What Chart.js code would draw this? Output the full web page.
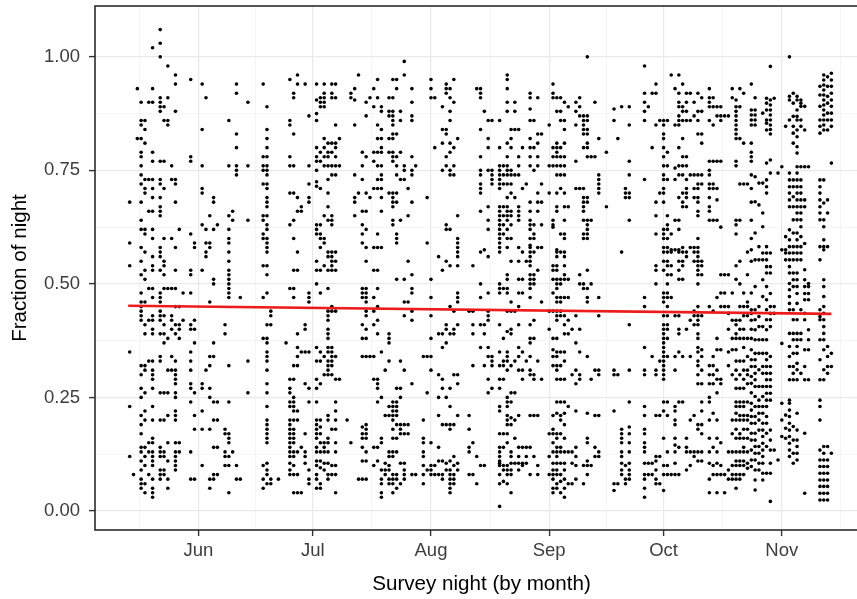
<!DOCTYPE html>
<html>
<head>
<meta charset="utf-8">
<title>Fraction of night by survey night</title>
<script src="https://cdn.jsdelivr.net/npm/chart.js@4/dist/chart.umd.min.js"></script>
<style>
  html, body { margin:0; padding:0; background:#fff; overflow:hidden; }
  #wrap { width:880px; height:599px; }
</style>
</head>
<body>
<div id="wrap"><canvas id="chart" width="880" height="599"></canvas></div>
<script>
// survey nights, as days since 1 June
const nights = [-18,-17,-16,-15,-14,-13,-12,-10,-9,-8,-7,-6,-5,-4,-2,-1,1,2,3,4,5,7,8,9,10,11,13,17,18,19,21,23,24,25,26,27,28,29,31,32,33,34,35,36,37,39,40,41,42,43,44,45,46,47,48,49,50,51,52,53,54,55,56,57,59,60,61,62,63,64,65,66,67,68,71,72,73,74,75,76,77,79,80,81,82,83,84,85,86,87,88,89,90,92,93,94,95,96,97,98,99,100,101,102,103,104,105,107,109,110,111,112,113,117,118,119,120,121,122,123,124,125,126,127,128,129,130,131,132,134,135,136,137,138,139,140,141,142,143,144,145,146,147,148,149,150,151,152,153,154,155,156,157,158,159,160,163,164,165,166];

// fraction of night of each detection, one list per night (same order as nights)
const fractions = [
  [.68,.59,.54,.35,.23,.12],
  [.08],
  [.93,.82],
  [.90,.86,.85,.82,.79,.78,.76,.74,.72,.68,.64,.62,.58,.55,.52,.48,.46,.45,.44,.43,.42,.32,.30,.27,.25,.21,.19,.17,.14,.13,.11,.09,.07,.06,.05],
  [.86,.84,.81,.73,.71,.70,.62,.61,.57,.53,.51,.46,.41,.39,.32,.31,.26,.22,.20,.14,.12,.10,.06,.04],
  [.90,.73,.66,.49,.42,.33,.15,.13,.08],
  [1.02,.93,.90,.79,.77,.73,.71,.69,.66,.62,.60,.56,.54,.53,.49,.47,.43,.42,.40,.39,.33,.31,.30,.29,.27,.23,.20,.16,.15,.13,.12,.11,.10,.07,.05,.04,.03],
  [1.06,1.03,1.00,.91,.90,.89,.88,.77,.73,.72,.69,.67,.66,.65,.58,.57,.56,.53,.48,.47,.46,.44,.43,.42,.39,.34,.33,.26,.20,.14,.13,.12,.09,.08,.07],
  [.89,.86,.77,.71,.60,.55,.54,.52,.49,.43,.41,.39,.37,.26,.20,.13,.12,.09,.08],
  [.98,.91,.86,.85,.49,.38,.31,.26,.21,.15,.11,.07,.05],
  [.76,.73,.60,.49,.43,.42,.40,.34,.31],
  [.96,.94,.88,.73,.72,.68,.58,.53,.49,.45,.41,.39,.33,.31,.30,.29,.28,.26,.25,.22,.21,.20,.15,.13,.12,.11,.10,.09],
  [.62,.45,.41,.40,.38,.15,.13],
  [.48,.42],
  [.95,.78,.77,.61,.53,.52,.48,.41,.40,.35,.33,.31,.28,.27,.24,.13,.07],
  [.59,.58,.42,.40,.37,.26,.21,.18,.07],
  [.94,.84,.76,.71,.70,.63,.53,.28,.27,.22,.18,.10],
  [.91,.62,.59,.57,.56,.31],
  [.65,.59,.58,.46,.34,.32,.27,.25,.18,.07,.05],
  [.69,.68,.62,.51,.50,.37,.34,.24,.20,.14,.08,.07],
  [.63,.24,.20,.14,.08],
  [.41,.39,.18,.17,.13,.12,.10],
  [.86,.76,.65,.62,.60,.59,.57,.55,.53,.52,.51,.50,.49,.48,.47,.32,.24,.17,.16,.15,.12,.10,.04],
  [.66,.64,.13],
  [.94,.92,.83,.80,.76,.75,.74,.10,.07],
  [.47,.07],
  [.90,.76,.64,.33,.26],
  [.94,.78,.76,.75,.72,.65,.64,.61,.60,.54,.47,.38,.10,.07,.05],
  [.89,.84,.82,.80,.78,.76,.75,.74,.72,.71,.69,.68,.67,.65,.63,.62,.60,.59,.58,.57,.54,.52,.48,.41,.38,.37,.35,.34,.33,.31,.28,.26,.23,.20,.19,.18,.17,.16,.15,.105,.09,.08,.06],
  [.44,.43,.41,.07,.06],
  [.07],
  [.37],
  [.95,.86,.85,.78,.76,.70,.63,.49,.29,.27,.26,.24,.23,.20,.19,.18,.17,.16,.15,.14,.13,.12,.105,.09,.08],
  [.92,.91,.83,.76,.70,.64,.60,.53,.49,.47,.32,.29,.25,.24,.23,.22,.20,.18,.17,.16,.15,.13,.12,.10,.08,.04],
  [.96,.94,.69,.66,.57,.53,.39,.36,.34,.32,.22,.20,.13,.08,.04],
  [.67,.66,.35,.14,.04],
  [.94,.41,.40,.35,.28,.17,.13,.12,.105],
  [.87,.76,.72,.69,.68,.48,.47,.46,.35,.27,.24,.09,.07,.06],
  [.94,.905,.875,.86,.80,.78,.77,.75,.725,.715,.63,.62,.61,.55,.53,.50,.36,.33,.29,.27,.24,.20,.19,.18,.17,.16,.14,.13,.11,.10,.08,.07,.05],
  [.91,.90,.89,.79,.77,.71,.63,.61,.60,.58,.53,.48,.35,.33,.28,.20,.185,.17,.15,.13,.11,.095,.06,.05],
  [.94,.92,.91,.90,.89,.82,.80,.78,.76,.65,.60,.59,.54,.34,.30,.15,.14,.13,.105,.09],
  [.81,.79,.78,.76,.73,.70,.67,.64,.57,.56,.53,.49,.44,.43,.42,.40,.39,.38,.36,.35,.33,.32,.31,.30,.21,.20,.16,.15,.13,.105,.08,.07],
  [.94,.92,.91,.81,.79,.76,.74,.65,.64,.63,.57,.56,.55,.54,.53,.45,.44,.36,.35,.34,.33,.32,.30,.18,.10,.08],
  [.94,.91,.85,.81,.80,.78,.76,.74,.57,.55,.53,.44,.34,.29,.24,.22,.20,.18,.15,.13,.10,.08,.04],
  [.82,.76,.29],
  [.20],
  [.92,.91,.15],
  [.93,.905,.85,.74,.69,.68,.65],
  [.96,.70,.07],
  [.79,.76,.73,.66,.63,.61,.59,.49,.48,.47,.41,.38,.34,.185,.17,.16,.14,.11,.07],
  [.90,.87,.78,.70,.66,.62,.58,.55,.49,.48,.47,.46,.44,.43,.40,.38,.34,.19,.18,.17,.16,.13,.11,.07],
  [.91,.69,.34],
  [.93,.89,.79,.77,.71,.58,.53,.47,.44,.41,.34,.29,.14,.10],
  [.95,.91,.85,.82,.79,.76,.73,.71,.61,.58,.53,.49,.45,.42,.39,.29,.28,.27,.24,.14,.11],
  [.89,.88,.84,.82,.80,.79,.76,.74,.73,.71,.69,.66,.58,.35,.25,.16,.15,.09,.07,.06,.04,.03],
  [.31,.21,.105,.09,.08],
  [.91,.88,.87,.82,.79,.70,.39,.38,.37,.33,.23,.21,.13,.12,.10,.09,.07,.06],
  [.95,.91,.88,.87,.86,.85,.83,.82,.79,.78,.77,.70,.69,.68,.67,.64,.63,.24,.23,.22,.21,.20,.18,.16,.13,.12,.08,.07,.06,.04],
  [.95,.93,.83,.78,.76,.74,.70,.68,.61,.60,.59,.51,.27,.24,.23,.22,.21,.19,.16,.13,.08,.07,.05],
  [.88,.86,.79,.73,.64,.33,.27,.25,.19,.18,.17,.105,.06],
  [.99,.96,.76,.75,.73,.51,.46,.43,.31,.19,.17,.105,.09,.08,.07],
  [.71,.65,.55,.46,.19,.17],
  [.93,.90,.87,.86,.78,.75,.74,.68,.52,.49,.48,.44,.42,.28,.08],
  [.76,.08],
  [.34,.20,.16,.15,.13,.12,.10,.08,.06],
  [.69,.59,.34,.26,.09],
  [.95,.93,.91,.51,.47,.43,.38,.34,.31,.15,.10,.09,.08],
  [.91,.80,.10,.08],
  [.56,.39,.30,.25,.21,.14,.11,.08],
  [.89,.84,.81,.75,.53,.39,.36,.29,.27,.19,.11,.08,.07],
  [.94,.93,.92,.84,.83,.78,.76,.63,.62,.55,.41,.40,.37,.25,.19,.105,.09],
  [.93,.91,.88,.86,.81,.79,.75,.74,.62,.54,.45,.39,.27,.23,.19,.18,.11,.09,.08,.07,.06,.05,.04],
  [.95,.90,.80,.76,.74,.44,.40,.39,.30,.19,.12,.10,.08,.07,.06],
  [.82,.65,.60,.59,.58,.57,.56,.54,.48,.47,.46,.41,.30,.28,.21,.105,.09],
  [.44,.21,.18,.14,.13,.08],
  [.54,.44,.41,.39,.32,.15,.08],
  [.93,.12,.06],
  [.93,.92,.91,.84,.78,.75,.74,.72,.71,.70,.66,.57,.50,.47,.41,.36,.10],
  [.88,.575,.41,.39,.32,.10],
  [.86,.82,.80,.75,.67,.64,.62,.56,.48,.44,.43,.42,.36,.34,.29,.26],
  [.86,.75,.74,.73,.72,.34,.33,.32,.27],
  [.86,.80,.76,.75,.74,.73,.72,.71,.67,.66,.65,.64,.63,.62,.61,.60,.59,.58,.57,.50,.49,.48,.41,.35,.32,.29,.27,.23,.22,.17,.14,.13,.12,.11,.105,.10,.08,.06,.01],
  [.76,.74,.72,.67,.65,.63,.61,.49,.38,.33,.32,.29,.17,.14,.10,.09,.065],
  [.96,.95,.93,.90,.88,.81,.78,.76,.75,.74,.72,.69,.67,.66,.65,.64,.62,.60,.58,.52,.51,.49,.48,.44,.395,.35,.34,.33,.31,.25,.24,.23,.21,.20,.19,.17,.15,.10,.09,.08,.06],
  [.84,.82,.80,.75,.74,.72,.70,.66,.65,.63,.60,.55,.46,.44,.40,.39,.32,.26,.24,.205,.19,.13,.12,.105,.09,.08,.04],
  [.90,.88,.84,.74,.69,.44,.33,.26,.20,.16,.105],
  [.84,.78,.76,.74,.67,.66,.65,.64,.58,.55,.51,.48,.45,.41,.36,.34,.31,.21,.14,.12,.105,.09],
  [.80,.71,.57,.51,.48,.35,.31,.29,.14,.105,.10],
  [.72,.55,.33,.14,.12,.105],
  [.92,.91,.885,.86,.82,.80,.78,.76,.68,.66,.64,.63,.62,.60,.585,.58,.57,.56,.55,.54,.52,.51,.50,.49,.47,.41,.38,.37,.34,.31,.30,.21,.14,.08],
  [.86,.80,.75,.63,.61,.60,.57,.52,.51,.50,.42,.38,.30,.29,.21,.12],
  [.91,.83,.81,.78,.76,.70,.68,.66,.58,.53,.33,.21,.10,.08],
  [.83,.72,.68,.63,.58,.46,.29],
  [.85,.76,.70,.44,.40,.17,.12,.08],
  [.94,.92,.91,.80,.78,.76,.64,.63,.625,.54,.53,.51,.48,.44,.38,.355,.34,.32,.21,.18,.17,.15,.13,.105,.09,.08,.07,.05,.04],
  [.91,.88,.81,.80,.79,.78,.76,.74,.70,.67,.66,.575,.57,.56,.54,.53,.51,.50,.49,.47,.46,.44,.43,.42,.38,.35,.34,.32,.31,.29,.24,.215,.17,.16,.14,.13,.12,.105,.09,.08,.06,.05],
  [.91,.88,.86,.80,.78,.76,.74,.71,.61,.57,.51,.50,.47,.46,.44,.43,.35,.32,.29,.24,.21,.20,.17,.14,.13,.105,.08,.065,.04],
  [.90,.86,.84,.81,.78,.76,.74,.70,.67,.64,.61,.60,.57,.56,.54,.52,.51,.47,.43,.41,.39,.35,.33,.29,.24,.215,.19,.16,.13,.105,.09,.07,.05,.03],
  [.89,.67,.51,.47,.42,.39,.23,.13,.06],
  [.40,.30,.13,.105,.06],
  [.90,.88,.85,.77,.71,.43,.37,.31,.28,.22,.14,.12,.10,.07],
  [.91,.89,.87,.71,.52,.50,.40,.35,.30,.29],
  [.87,.86,.85,.84,.83,.80,.71,.69,.68,.67,.66,.64,.61,.60,.50,.49,.10,.06],
  [1.00,.87,.86,.84,.83,.81,.80,.78,.69,.68,.64,.63,.62,.61,.60,.53,.49,.47,.46,.34,.215,.16,.15,.11,.10,.08],
  [.78,.64,.50,.29,.10],
  [.90,.78,.31,.21,.14,.12],
  [.82,.74,.73,.72,.71,.70,.47,.43,.31,.30,.21,.13,.12],
  [.79,.67],
  [.885,.86,.31,.30,.22,.06,.045],
  [.82,.30,.06],
  [.89,.57,.18,.17,.16,.15,.13,.12,.105,.09,.08],
  [.71,.70,.69,.10,.07,.06],
  [.89,.85,.77,.74,.70,.69,.64,.41,.31,.24,.185,.17,.15,.13,.105,.09,.08,.07],
  [.98,.92,.90,.88,.86,.73,.47,.45,.36,.31,.30,.23,.21,.18,.17,.15,.14,.13,.105,.08,.07,.05,.03],
  [.89,.105,.08],
  [.92,.80,.34,.105,.08],
  [.94,.92,.85,.68,.65,.61,.54,.53,.50,.31,.30,.21,.12,.11,.09,.07,.06],
  [.86,.70,.33,.21,.12,.06],
  [.86,.85,.83,.82,.80,.78,.76,.74,.73,.71,.70,.68,.62,.61,.60,.58,.57,.55,.53,.48,.47,.46,.43,.41,.40,.39,.38,.37,.36,.35,.34,.33,.32,.31,.30,.29,.24,.22,.16,.10,.08,.045],
  [.86,.79,.76,.73,.65,.63,.62,.60,.58,.57,.55,.54,.52,.50,.48,.47,.45,.43,.41,.40,.38,.34,.24,.21,.13,.10,.08],
  [.96,.61,.575,.57,.54,.52,.47,.08],
  [.93,.85,.755,.73,.64,.575,.43,.34,.31,.23,.22,.20,.19,.16,.145,.13,.105,.08],
  [.96,.92,.90,.89,.87,.86,.85,.80,.76,.74,.69,.64,.62,.575,.57,.55,.53,.51,.43,.40,.39,.35,.24,.14,.08],
  [.94,.89,.88,.86,.82,.78,.76,.74,.70,.68,.67,.58,.57,.55,.54,.51,.34,.24],
  [.92,.90,.88,.86,.78,.76,.73,.71,.70,.69,.67,.57,.56,.40,.16,.14,.13,.09],
  [.92,.86,.74,.58,.42,.34,.20,.13,.10],
  [.90,.87,.74,.71,.69,.58,.57,.55,.44,.43,.41,.21,.13,.12],
  [.92,.88,.86,.83,.74,.72,.71,.69,.68,.66,.65,.60,.58,.57,.56,.55,.54,.53,.52,.50,.45,.43,.42,.41,.39,.38,.36,.35,.33,.32,.30,.28,.19,.18,.13,.11],
  [.91,.88,.83,.81,.74,.72,.55,.54,.52,.43,.355,.34,.31,.28,.24,.22,.19,.17,.13,.11],
  [.93,.91,.90,.89,.86,.77,.75,.74,.72,.71,.69,.67,.66,.64,.45,.32,.30,.28,.25,.24,.20,.16,.13,.105,.07,.04],
  [.91,.89,.85,.77,.72,.71,.64,.44,.34,.32,.30,.28,.215,.14,.10,.08],
  [.89,.87,.77,.71,.685,.64,.47,.38,.355,.31,.29,.26,.20,.16,.13,.105,.08,.04],
  [.89,.87,.86,.77,.625,.52,.48,.45,.355,.29,.28,.15,.10,.08],
  [.87,.52,.48,.45,.08,.04],
  [.87,.52,.45,.435,.40,.35,.32,.13,.09,.07],
  [.93,.91,.48,.42,.38,.355,.30,.20,.17,.13,.10,.08,.07],
  [.905,.89,.88,.87,.86,.85,.84,.83,.82,.77,.76,.64,.63,.61,.54,.51,.42,.41,.39,.38,.355,.33,.31,.29,.27,.24,.23,.215,.20,.18,.16,.13,.11,.10,.08,.07,.05],
  [.93,.89,.82,.72,.64,.55,.50,.45,.42,.40,.38,.33,.30,.27,.24,.23,.21,.20,.17,.16,.13,.11,.10,.08,.07],
  [.92,.81,.72,.48,.45,.43,.40,.38,.36,.33,.31,.29,.27,.24,.23,.21,.20,.18,.16,.14,.13,.11,.10,.08],
  [.72,.57,.52,.46,.45,.43,.38,.34,.31,.30,.28,.24,.21,.20,.18,.16,.13,.105,.094],
  [.94,.883,.872,.861,.85,.81,.79,.78,.77,.74,.71,.68,.64,.60,.575,.55,.48,.443,.435,.42,.40,.38,.355,.333,.318,.296,.281,.26,.237,.222,.208,.193,.171,.156,.134,.112,.098],
  [.91,.883,.872,.861,.85,.736,.681,.612,.553,.494,.443,.421,.399,.377,.347,.333,.318,.303,.289,.274,.252,.23,.208,.193,.171,.156,.142,.127,.112,.09,.068,.046],
  [.722,.674,.582,.553,.45,.428,.406,.377,.347,.311,.274,.244,.23,.215,.20,.178,.142,.127,.105,.09],
  [.876,.722,.656,.626,.568,.553,.509,.472,.406,.377,.347,.318,.303,.274,.252,.23,.215,.193,.178,.164,.149,.134,.12,.105,.083,.068],
  [.909,.898,.883,.861,.854,.839,.766,.729,.714,.70,.582,.568,.553,.538,.524,.494,.465,.443,.421,.399,.377,.347,.333,.318,.303,.289,.274,.259,.244,.23,.208,.193,.171,.142,.083],
  [.979,.905,.894,.883,.872,.861,.85,.84,.83,.773,.744,.568,.538,.524,.479,.45,.435,.421,.406,.34,.318,.303,.289,.274,.259,.244,.178,.156,.134,.105,.083,.021],
  [.909,.45,.435,.134],
  [.744,.112],
  [.758,.575,.369,.237,.20,.164],
  [.847,.604,.575,.568,.553,.211,.182,.16],
  [1.00,.913,.905,.861,.744,.729,.714,.70,.685,.67,.619,.597,.582,.568,.553,.538,.524,.501,.487,.472,.457,.443,.391,.362,.34,.318,.289,.244,.237,.222,.208,.193,.178,.164,.149,.134,.12],
  [.92,.898,.869,.847,.832,.81,.729,.714,.692,.67,.641,.612,.582,.568,.553,.524,.509,.494,.443,.421,.391,.377,.347,.318,.303,.289,.186,.156,.127,.105],
  [.913,.905,.883,.869,.861,.839,.824,.802,.788,.758,.744,.729,.714,.70,.685,.67,.656,.641,.612,.597,.582,.568,.553,.524,.509,.494,.479,.457,.421,.391,.377,.362,.347,.325,.311,.289,.215,.178,.156,.142,.127,.112],
  [.905,.898,.891,.861,.847,.758,.729,.714,.70,.685,.67,.656,.641,.626,.604,.582,.568,.553,.443,.391,.377,.303],
  [.891,.839,.758,.685,.67,.589,.531,.509,.494,.479,.465,.435,.421,.355,.318,.289,.171,.039],
  [.758,.501,.494,.479,.465,.399,.377,.355,.289],
  [.935,.916,.891,.861,.847,.832,.729,.714,.70,.685,.67,.656,.641,.582,.553,.443,.428,.421,.377,.333,.289,.244,.23,.20,.134,.112,.098,.083,.068,.054,.039,.024],
  [.96,.949,.938,.927,.916,.905,.894,.883,.872,.861,.85,.839,.729,.678,.641,.626,.597,.582,.575,.509,.494,.472,.45,.435,.421,.406,.391,.377,.355,.311,.289,.142,.127,.112,.098,.083,.068,.054,.039,.024],
  [.956,.935,.913,.898,.876,.861,.839,.685,.656,.582,.362,.34,.318,.303,.142,.112,.098,.083,.068,.054,.039,.024],
  [.964,.949,.935,.92,.905,.891,.876,.861,.847,.766,.347,.318,.127]
];

// fitted trend (red line), ends
const trendDays = [-18.4, 166];
const trendFraction = [0.452, 0.434];

// axis breaks
const monthDays = [0, 30, 61, 92, 122, 153];
const monthLabels = ['Jun', 'Jul', 'Aug', 'Sep', 'Oct', 'Nov'];
const minorDays = [-15.5, 15, 45.5, 76.5, 107, 137.5, 168.5];
const yBreaks = [0, 0.25, 0.5, 0.75, 1];
const yMinor = [0.125, 0.375, 0.625, 0.875];

const points = [];
nights.forEach((d, i) => fractions[i].forEach(f => points.push({ x: d, y: f })));
const trend = trendDays.map((d, i) => ({ x: d, y: trendFraction[i] }));

const FONT = "'Liberation Sans', Arial, Helvetica, sans-serif";
const isMinorX = v => minorDays.indexOf(v) >= 0;
const isMinorY = v => yMinor.indexOf(v) >= 0;

// panel border like theme_bw
const panelBorder = {
  id: 'panelBorder',
  afterDraw(chart) {
    const a = chart.chartArea, c = chart.ctx;
    c.save();
    c.strokeStyle = '#2b2b2b';
    c.lineWidth = 1.6;
    c.strokeRect(a.left, a.top, a.right - a.left, a.bottom - a.top);
    c.restore();
  }
};

new Chart(document.getElementById('chart').getContext('2d'), {
  type: 'scatter',
  data: {
    datasets: [
      { type: 'line', data: trend, borderColor: '#ec1c1c', borderWidth: 2.6, pointRadius: 0, fill: false, order: 0 },
      { data: points, pointRadius: 1.8, pointBorderWidth: 0, pointBackgroundColor: '#000', order: 1 }
    ]
  },
  options: {
    responsive: false,
    animation: false,
    events: [],
    layout: { padding: { top: 6, right: 12, left: 0, bottom: 0 } },
    plugins: { legend: { display: false }, tooltip: { enabled: false } },
    scales: {
      x: {
        type: 'linear', min: -27.1, max: 175.6,
        afterBuildTicks: s => { s.ticks = monthDays.concat(minorDays).sort((a, b) => a - b).map(v => ({ value: v })); },
        afterFit: s => { s.height = 69; s.paddingLeft = 0; s.paddingRight = 0; },
        border: { display: false },
        grid: {
          color: c => isMinorX(c.tick.value) ? '#f3f3f3' : '#e9e9e9',
          lineWidth: c => isMinorX(c.tick.value) ? 0.8 : 1.2,
          tickColor: c => isMinorX(c.tick.value) ? 'rgba(0,0,0,0)' : '#333',
          tickLength: 6, tickWidth: 1.4
        },
        ticks: {
          autoSkip: false, maxRotation: 0, padding: 4, color: '#3d3d3d',
          font: { family: FONT, size: 18.5 },
          callback: v => { const i = monthDays.indexOf(v); return i >= 0 ? monthLabels[i] : ''; }
        },
        title: { display: true, text: 'Survey night (by month)', color: '#000', font: { family: FONT, size: 20.6 }, padding: { top: 4, bottom: 2 } }
      },
      y: {
        min: -0.042, max: 1.112,
        afterBuildTicks: s => { s.ticks = yBreaks.concat(yMinor).sort((a, b) => a - b).map(v => ({ value: v })); },
        afterFit: s => { s.width = 95; s.paddingTop = 0; s.paddingBottom = 0; },
        border: { display: false },
        grid: {
          color: c => isMinorY(c.tick.value) ? '#f3f3f3' : '#e9e9e9',
          lineWidth: c => isMinorY(c.tick.value) ? 0.8 : 1.2,
          tickColor: c => isMinorY(c.tick.value) ? 'rgba(0,0,0,0)' : '#333',
          tickLength: 6, tickWidth: 1.4
        },
        ticks: {
          autoSkip: false, padding: 9, color: '#3d3d3d',
          font: { family: FONT, size: 18.5 },
          callback: v => yBreaks.indexOf(v) >= 0 ? v.toFixed(2) : ''
        },
        title: { display: true, text: 'Fraction of night', color: '#000', font: { family: FONT, size: 20.6 }, padding: { top: 8, bottom: 4 } }
      }
    }
  },
  plugins: [panelBorder]
});
</script>
</body>
</html>
